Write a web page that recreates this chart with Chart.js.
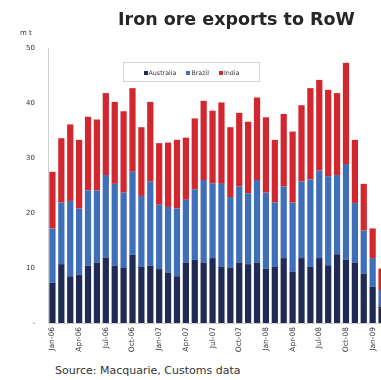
<!DOCTYPE html>
<html>
<head>
<meta charset="utf-8">
<script src="https://cdn.jsdelivr.net/npm/chart.js@4"></script>
<style>
  html, body { margin: 0; padding: 0; background: #fff; overflow: hidden; width: 381px; height: 380px; }
  body { position: relative; font-family: 'DejaVu Sans', sans-serif; color: #222; }
  #wrap { position: absolute; left: 0; top: 0; width: 386px; height: 362px; }
  #title { position: absolute; left: 118px; top: 9px; font-size: 17.5px; font-weight: bold; color: #262626; white-space: nowrap; }
  #unit { position: absolute; left: 20px; top: 30px; font-size: 7px; line-height: 7px; color: #333; }
  #legend { position: absolute; left: 123px; top: 62px; width: 135px; height: 18px; border: 1px solid #d4d4d4; background: #fff;
            font-size: 6.3px; display: flex; align-items: center; justify-content: center; gap: 10px; color: #333; }
  #legend span i { display: inline-block; width: 4px; height: 4px; margin-right: 1px; vertical-align: middle; }
  #source { position: absolute; left: 55px; top: 364px; font-size: 11px; color: #333; white-space: nowrap; }
</style>
</head>
<body>
<div id="wrap"><canvas id="chart"></canvas></div>
<div id="title">Iron ore exports to RoW</div>
<div id="unit">m t</div>
<div id="legend"></div>
<div id="source">Source: Macquarie, Customs data</div>
<script>
const months = ['Jan-06','Feb-06','Mar-06','Apr-06','May-06','Jun-06','Jul-06','Aug-06','Sep-06','Oct-06','Nov-06','Dec-06',
  'Jan-07','Feb-07','Mar-07','Apr-07','May-07','Jun-07','Jul-07','Aug-07','Sep-07','Oct-07','Nov-07','Dec-07',
  'Jan-08','Feb-08','Mar-08','Apr-08','May-08','Jun-08','Jul-08','Aug-08','Sep-08','Oct-08','Nov-08','Dec-08',
  'Jan-09','Feb-09'];

const australia = [7.3,10.7,8.5,8.8,10.4,11.0,11.9,10.4,10.1,12.4,10.2,10.4,9.8,9.1,8.5,11.0,11.5,11.0,11.8,10.2,
  10.1,11.0,10.7,11.0,9.9,10.2,11.8,9.3,11.8,10.2,11.8,10.5,12.5,11.5,11.0,9.0,6.6,3.0];
const brazil = [9.9,11.2,13.7,12.0,13.7,13.1,15.0,14.9,13.6,15.1,12.9,15.3,11.7,12.0,12.3,11.4,12.8,15.0,13.6,15.1,
  12.8,13.8,12.9,15.0,13.8,11.7,13.0,12.6,13.9,15.9,15.9,16.2,14.4,17.4,10.8,7.8,5.2,3.0];
const india = [10.3,11.7,13.9,12.5,13.4,12.9,14.9,14.9,14.8,15.2,12.5,14.5,11.2,11.7,12.5,11.3,12.9,14.4,13.2,14.8,
  12.7,13.4,13.0,15.0,13.7,11.4,13.2,12.9,13.9,16.6,16.5,15.7,14.9,18.4,11.5,8.5,5.4,3.9];

const yTicks = [0, 10, 20, 30, 40, 50];

const series = [
  { name: 'Australia', values: australia, color: '#1f2b55' },
  { name: 'Brazil', values: brazil, color: '#3f6fb8' },
  { name: 'India', values: india, color: '#d2272f' }
];

document.getElementById('legend').innerHTML = series
  .map(s => `<span><i style="background:${s.color}"></i>${s.name}</span>`).join('');

const font = { family: "'DejaVu Sans', sans-serif", size: 7 };

new Chart(document.getElementById('chart'), {
  type: 'bar',
  data: {
    labels: months,
    datasets: series.map(s => ({
      label: s.name,
      data: s.values,
      backgroundColor: s.color,
      barPercentage: 0.7,
      categoryPercentage: 1.0
    }))
  },
  options: {
    responsive: true,
    maintainAspectRatio: false,
    animation: false,
    layout: { padding: { top: 48, right: 0, left: 0, bottom: 0 } },
    plugins: { legend: { display: false }, title: { display: false }, tooltip: { enabled: false } },
    scales: {
      x: {
        stacked: true,
        grid: { display: false, drawTicks: false },
        border: { color: '#cfcfcf' },
        afterFit: s => { s.height = 39; },
        ticks: {
          autoSkip: false, minRotation: 90, maxRotation: 90, padding: 4,
          color: '#333', font: { ...font, size: 7.5 },
          callback: (v, i) => (i % 3 === 0 ? months[i] : null)
        }
      },
      y: {
        stacked: true,
        min: yTicks[0], max: yTicks[yTicks.length - 1],
        afterFit: s => { s.width = 48; },
        afterBuildTicks: s => { s.ticks = yTicks.map(v => ({ value: v })); },
        grid: { display: false, drawTicks: false },
        border: { color: '#cfcfcf' },
        ticks: {
          padding: 13, color: '#333', font,
          callback: v => (v === 0 ? '-' : v)
        }
      }
    }
  }
});
</script>
</body>
</html>
